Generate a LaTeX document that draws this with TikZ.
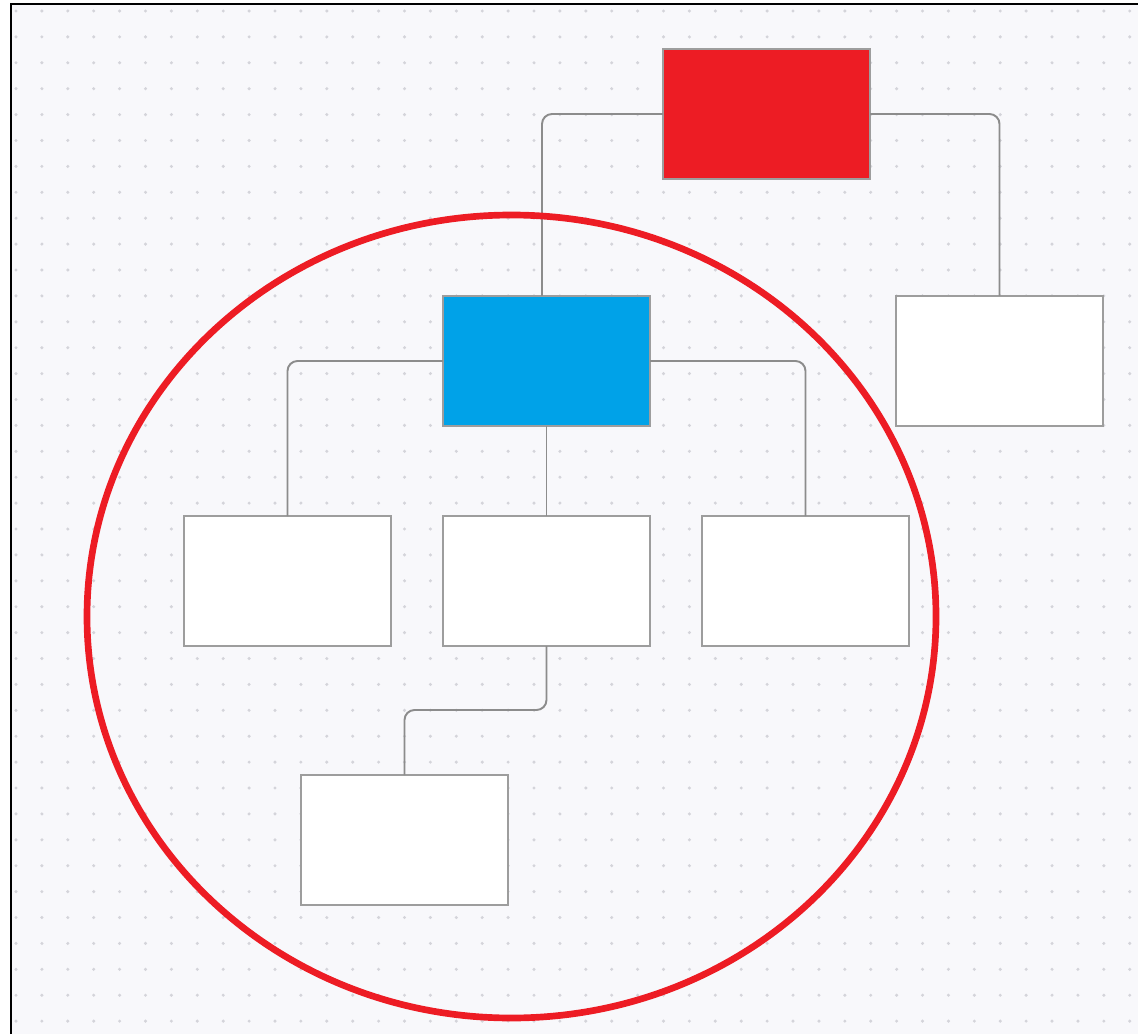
\documentclass[tikz,border=0pt]{standalone}
\usepackage{tikz}
\usetikzlibrary{positioning}
\definecolor{chartred}{HTML}{ED1C24}
\definecolor{chartblue}{HTML}{00A2E8}
\definecolor{canvas}{HTML}{F8F8FB}
\definecolor{griddot}{HTML}{D4D4DA}
\definecolor{edge}{HTML}{8C8C8C}

\begin{document}
\begin{tikzpicture}[
    node distance=1.8cm and 1.04cm,
    card/.style={draw=edge!85, line width=1.2pt, fill=white, outer sep=0pt,
                 minimum width=4.14cm, minimum height=2.6cm, inner sep=0pt},
    rootcard/.style={card, fill=chartred},
    headcard/.style={card, fill=chartblue},
    link/.style={draw=edge, line width=1.1pt, rounded corners=0.2cm},
    halo/.style={draw=chartred, line width=3.8pt},
]
    % canvas, dotted grid and frame
    \useasboundingbox (0,0) rectangle (22.76,-20.68);
    \fill[white] (0,0) rectangle (22.76,-20.68);
    \fill[canvas] (0.22,-0.08) rectangle (22.76,-20.68);
    \foreach \i in {0,...,43}
      \foreach \j in {0,...,39}
        \fill[griddot] (0.32+0.518*\i,-0.22-0.518*\j) circle (0.034);
    \draw[black, line width=1.4pt] (0.22,-20.68) -- (0.22,-0.08) -- (22.76,-0.08);

    \node[rootcard] (root) at (15.33,-2.28) {};
    \node[headcard, below left=2.34cm and 0.26cm of root]  (head) {};
    \node[card, below right=2.34cm and 0.52cm of root]     (side) {};

    \node[card, below=of head]   (leafb) {};
    \node[card, left=of leafb]   (leafa) {};
    \node[card, right=of leafb]  (leafc) {};
    \node[card, below=2.58cm of leafb, xshift=-2.84cm] (sub) {};

    \draw[link] (root.west) -| ([xshift=-0.09cm]head.north);
    \draw[link] (root.east) -| (side.north);
    \draw[link] (head.west) -| (leafa.north);
    \draw[link] (head.east) -| (leafc.north);
    \draw[link] (head.south) -- (leafb.north);
    \draw[link] (leafb.south) -- ++(0,-1.28) -| (sub.north);

    % highlight ring
    \draw[halo] (10.23,-12.33) ellipse (8.49cm and 8.03cm);
\end{tikzpicture}
\end{document}
